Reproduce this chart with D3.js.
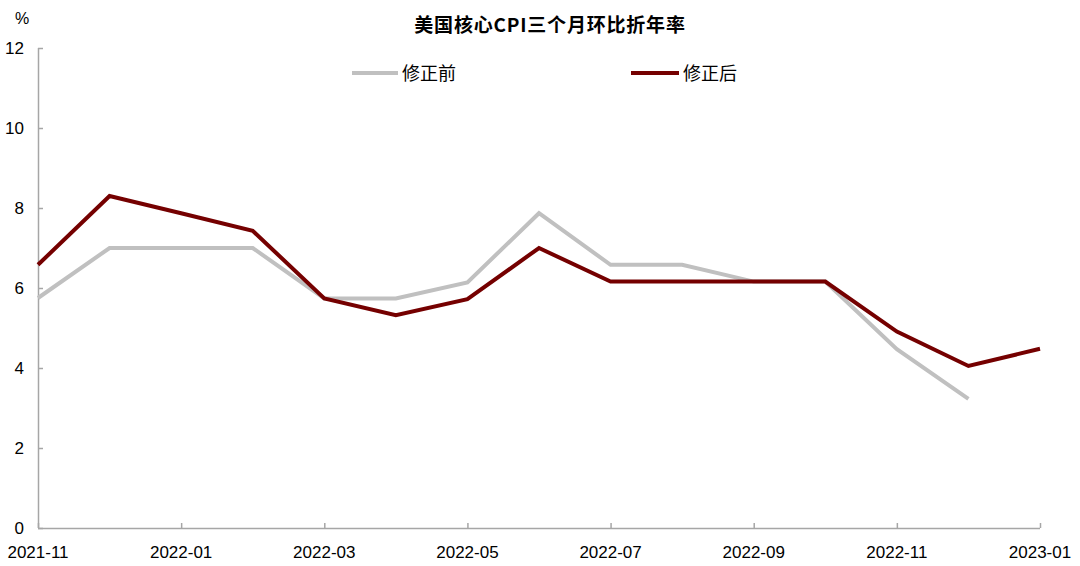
<!DOCTYPE html>
<html><head><meta charset="utf-8">
<script src="https://cdn.jsdelivr.net/npm/d3@7"></script>
<style>
html,body{margin:0;padding:0;background:#fff;}
svg{display:block;}
</style></head>
<body>
<svg id="c" width="1080" height="566"></svg>
<script>
const months = ["2021-11","2021-12","2022-01","2022-02","2022-03","2022-04","2022-05","2022-06","2022-07","2022-08","2022-09","2022-10","2022-11","2022-12","2023-01"];
const beforeRev = [5.75,7.0,7.0,7.0,5.74,5.74,6.14,7.87,6.58,6.58,6.16,6.16,4.47,3.23,null];
const afterRev  = [6.58,8.3,7.87,7.43,5.74,5.32,5.72,7.0,6.16,6.16,6.16,6.16,4.91,4.05,4.48];
const xTickLabels = ["2021-11","2022-01","2022-03","2022-05","2022-07","2022-09","2022-11","2023-01"];
const yTicks = [0,2,4,6,8,10,12];
const title = "美国核心CPI三个月环比折年率";
const seriesNames = ["修正前","修正后"];

const svg = d3.select("#c");
const axisColor = "#a6a6a6";
const font = "'Liberation Sans', Arial, sans-serif";
const cjk = "'Noto Sans CJK SC', sans-serif";

const x = d3.scalePoint().domain(months).range([38, 1040]);
const y = d3.scaleLinear().domain([0,12]).range([528, 48]);

// title
svg.append("text").attr("x", 550).attr("y", 32).attr("text-anchor","middle")
  .attr("font-family", cjk).attr("font-weight","bold").attr("font-size",19)
  .attr("letter-spacing","0.8px")
  .attr("fill","#000").text(title);

// % unit
svg.append("text").attr("x", 22).attr("y", 24).attr("text-anchor","middle")
  .attr("font-family", font).attr("font-size",16).attr("fill","#000").text("%");

// y axis
const yAxis = svg.append("g").attr("transform","translate(38,0)")
  .call(d3.axisRight(y).tickValues(yTicks).tickSize(5).tickFormat(""));
yAxis.select(".domain").attr("stroke",axisColor).attr("stroke-width",1.5).attr("d","M0.5,48V528");
yAxis.selectAll(".tick line").attr("stroke",axisColor).attr("stroke-width",1.5);
svg.append("g").selectAll("text").data(yTicks).join("text")
  .attr("x", 24).attr("y", d => y(d) + 6).attr("text-anchor","end")
  .attr("font-family", font).attr("font-size",17).attr("fill","#000").text(d => d);

// x axis
const xAxis = svg.append("g").attr("transform","translate(0,528)")
  .call(d3.axisTop(x).tickValues(xTickLabels).tickSize(5).tickFormat(""));
xAxis.select(".domain").attr("stroke",axisColor).attr("stroke-width",1.5).attr("d","M38,0.5H1040");
xAxis.selectAll(".tick line").attr("stroke",axisColor).attr("stroke-width",1.5);
svg.append("g").selectAll("text").data(xTickLabels).join("text")
  .attr("x", d => x(d)).attr("y", 558).attr("text-anchor","middle")
  .attr("font-family", font).attr("font-size",17).attr("fill","#000").text(d => d);

// lines
const line = d3.line().defined(d => d.v != null).x(d => x(d.m)).y(d => y(d.v));
svg.append("path").datum(months.map((m,i)=>({m, v: beforeRev[i]})))
  .attr("d", line).attr("fill","none").attr("stroke","#c0c0c0").attr("stroke-width",4)
  .attr("stroke-linejoin","miter");
svg.append("path").datum(months.map((m,i)=>({m, v: afterRev[i]})))
  .attr("d", line).attr("fill","none").attr("stroke","#750000").attr("stroke-width",4)
  .attr("stroke-linejoin","miter");

// legend
const legend = [
  {name: seriesNames[0], color:"#c0c0c0", x1:352, x2:398, tx:402},
  {name: seriesNames[1], color:"#750000", x1:631, x2:679, tx:683}
];
const lg = svg.append("g");
legend.forEach(l => {
  lg.append("line").attr("x1",l.x1).attr("x2",l.x2).attr("y1",73).attr("y2",73)
    .attr("stroke",l.color).attr("stroke-width",4);
  lg.append("text").attr("x",l.tx).attr("y",80).attr("font-family",cjk)
    .attr("font-size",18).attr("fill","#000").text(l.name);
});
</script>
</body></html>
